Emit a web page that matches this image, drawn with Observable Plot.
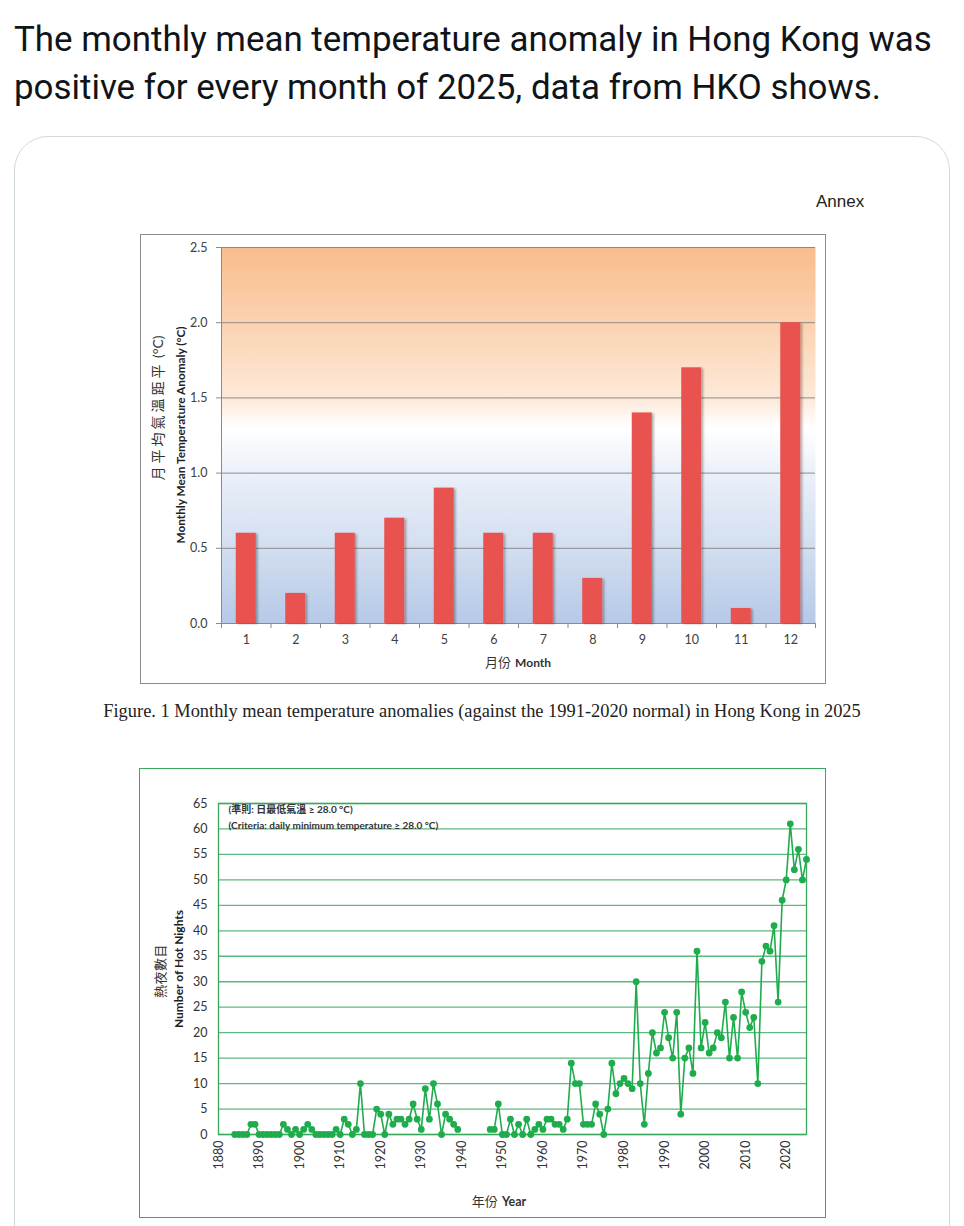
<!DOCTYPE html>
<html>
<head>
<meta charset="utf-8">
<script src="https://cdn.jsdelivr.net/npm/d3@7"></script>
<script src="https://cdn.jsdelivr.net/npm/@observablehq/plot@0.6"></script>
<style>
  html, body { margin: 0; padding: 0; background: #fff; }
  body { width: 964px; height: 1226px; overflow: hidden; position: relative; font-family: Lato, "Noto Sans CJK TC", sans-serif; }
  .abs { position: absolute; }
  .rot { position: absolute; white-space: nowrap; transform: translate(-50%, -50%) rotate(-90deg); }
  .ctr { position: absolute; white-space: nowrap; transform: translate(-50%, -50%); }
</style>
</head>
<body>
<div id="tweet" class="abs" style="left:14px;top:16px;font-family:Roboto,sans-serif;font-size:34px;line-height:48px;color:#0f1419;white-space:nowrap;">
  <span id="l1">The monthly mean temperature anomaly in Hong Kong was</span><br>
  <span id="l2">positive for every month of 2025, data from HKO shows.</span>
</div>
<div class="abs" style="left:14px;top:136px;width:936px;height:1200px;box-sizing:border-box;border:1.5px solid #cfd9de;border-radius:34px;"></div>
<div class="abs" style="left:816px;top:192px;font-family:'Liberation Sans',Arial,sans-serif;font-size:17px;color:#222;">Annex</div>

<div class="abs" style="left:140px;top:234px;width:686px;height:450px;box-sizing:border-box;border:1px solid #8c8c8c;"></div>
<div id="chart1" class="abs" style="left:140px;top:234px;"></div>
<div class="rot" style="left:157px;top:408px;font-size:14px;color:#333;"><span style="letter-spacing:3px;">月平均氣溫距平</span> (°C)</div>
<div class="rot" style="left:180px;top:435px;font-size:11.8px;font-weight:bold;color:#222;">Monthly Mean Temperature Anomaly (°C)</div>
<div class="ctr" style="left:518px;top:661px;color:#333;"><span style="font-size:13px;">月份</span> <span style="font-size:12px;font-weight:bold;">Month</span></div>

<div class="ctr" style="left:482px;top:711px;font-family:'Liberation Serif','Times New Roman',serif;font-size:18.4px;color:#222;">Figure. 1 Monthly mean temperature anomalies (against the 1991-2020 normal) in Hong Kong in 2025</div>

<div class="abs" style="left:139px;top:768px;width:687px;height:450px;box-sizing:border-box;border:1px solid #3aa85c;"></div>
<div id="chart2" class="abs" style="left:139px;top:768px;"></div>
<div class="rot" style="left:159px;top:971px;font-size:13px;letter-spacing:0.5px;color:#333;">熱夜數目</div>
<div class="rot" style="left:178px;top:969px;font-size:12px;font-weight:bold;color:#222;">Number of Hot Nights</div>
<div class="ctr" style="left:499px;top:1200px;color:#333;"><span style="font-size:13px;">年份</span> <span style="font-size:12.5px;font-weight:bold;">Year</span></div>

<script>
// ---------- Data: Figure 1 ----------
const months = [1, 2, 3, 4, 5, 6, 7, 8, 9, 10, 11, 12];
const anomalies = [0.6, 0.2, 0.6, 0.7, 0.9, 0.6, 0.6, 0.3, 1.4, 1.7, 0.1, 2.0];
const anomalyTicks = [0, 0.5, 1.0, 1.5, 2.0, 2.5];

// ---------- Data: Hot nights ----------
const hotNightsStartYear = 1884;
const hotNights = [
  0, 0, 0, 0, 2, 2,                     // 1884-1889
  0, 0, 0, 0, 0, 0, 2, 1, 0, 1,         // 1890-1899
  0, 1, 2, 1, 0, 0, 0, 0, 0, 1,         // 1900-1909
  0, 3, 2, 0, 1, 10, 0, 0, 0, 5,        // 1910-1919
  4, 0, 4, 2, 3, 3, 2, 3, 6, 3,         // 1920-1929
  1, 9, 3, 10, 6, 0, 4, 3, 2, 1,        // 1930-1939
  null, null, null, null, null, null, null, 1, 1, 6,  // 1940-1949
  0, 0, 3, 0, 2, 0, 3, 0, 1, 2,         // 1950-1959
  1, 3, 3, 2, 2, 1, 3, 14, 10, 10,      // 1960-1969
  2, 2, 2, 6, 4, 0, 5, 14, 8, 10,       // 1970-1979
  11, 10, 9, 30, 10, 2, 12, 20, 16, 17, // 1980-1989
  24, 19, 15, 24, 4, 15, 17, 12, 36, 17,// 1990-1999
  22, 16, 17, 20, 19, 26, 15, 23, 15, 28,// 2000-2009
  24, 21, 23, 10, 34, 37, 36, 41, 26, 46,// 2010-2019
  50, 61, 52, 56, 50, 54                // 2020-2025
];
const yearTicks = [1880, 1890, 1900, 1910, 1920, 1930, 1940, 1950, 1960, 1970, 1980, 1990, 2000, 2010, 2020];
const nightTicks = [0, 5, 10, 15, 20, 25, 30, 35, 40, 45, 50, 55, 60, 65];
const criteriaZh = "(準則: 日最低氣溫 ≥ 28.0 °C)";
const criteriaEn = "(Criteria: daily minimum temperature ≥ 28.0 °C)";

// ---------- Chart 1 ----------
const W1 = 686, H1 = 450, ml1 = 81, mr1 = 11, mt1 = 13, mb1 = 61;
const step1 = (W1 - ml1 - mr1) / months.length;
const barW = 20;
const pxPerUnit1 = (H1 - mt1 - mb1) / 2.5;
const tickLen1 = 5 / pxPerUnit1;
const data1 = months.map((m, i) => ({month: m, value: anomalies[i]}));

const plot1 = Plot.plot({
  width: W1, height: H1,
  marginLeft: ml1, marginRight: mr1, marginTop: mt1, marginBottom: mb1,
  style: {fontFamily: "Lato, 'Noto Sans CJK TC', sans-serif", fontSize: "12px", color: "#404040", background: "transparent", overflow: "visible"},
  x: {type: "band", domain: months, padding: 0, round: false, axis: null},
  y: {domain: [0, 2.5], axis: null},
  marks: [
    Plot.frame({fill: "url(#bg1)", stroke: null}),
    Plot.gridY(anomalyTicks, {stroke: "#8a8a8a", strokeOpacity: 1, strokeWidth: 1}),
    Plot.axisY(anomalyTicks, {tickFormat: d3.format(".1f"), tickSize: 5, tickPadding: 9, stroke: "#8a8a8a", fill: "#404040", label: null, fontSize: 12.5}),
    Plot.ruleX([months[0]], {dx: -step1 / 2, stroke: "#8a8a8a"}),
    Plot.ruleY([0], {stroke: "#8a8a8a"}),
    Plot.ruleX(months, {x: d => d, y1: 0, y2: -tickLen1, dx: step1 / 2, stroke: "#8a8a8a", clip: false}),
    Plot.ruleX([months[0]], {y1: 0, y2: -tickLen1, dx: -step1 / 2, stroke: "#8a8a8a", clip: false}),
    Plot.barY(data1, {x: "month", y: "value", fill: "#e9534f", insetLeft: (step1 - barW) / 2, insetRight: (step1 - barW) / 2}),
    Plot.axisX(months, {tickSize: 0, tickPadding: 12, fill: "#404040", label: null, fontSize: 12.5})
  ]
});
d3.select(plot1).insert("defs", ":first-child").html(
  `<linearGradient id="bg1" x1="0" y1="0" x2="0" y2="1">
     <stop offset="0" stop-color="#f8bd8c"/>
     <stop offset="0.2" stop-color="#fbd2b1"/>
     <stop offset="0.4" stop-color="#fde9d9"/>
     <stop offset="0.48" stop-color="#ffffff"/>
     <stop offset="0.6" stop-color="#ebf0f9"/>
     <stop offset="0.8" stop-color="#d2def0"/>
     <stop offset="1" stop-color="#b6c9e7"/>
   </linearGradient>
   <filter id="shadow1" x="-20%" y="-5%" width="150%" height="110%">
     <feDropShadow dx="2" dy="1" stdDeviation="1" flood-color="#000" flood-opacity="0.3"/>
   </filter>`
);
d3.select(plot1).selectAll("g[aria-label='bar']").attr("filter", "url(#shadow1)");
document.getElementById("chart1").appendChild(plot1);

// ---------- Chart 2 ----------
const W2 = 687, H2 = 450, ml2 = 79, mr2 = 20, mt2 = 35, mb2 = 84;
const data2 = hotNights.map((v, i) => ({year: hotNightsStartYear + i, value: v}));
const green = "#1fac4d";
const plot2 = Plot.plot({
  width: W2, height: H2,
  marginLeft: ml2, marginRight: mr2, marginTop: mt2, marginBottom: mb2,
  style: {fontFamily: "Lato, 'Noto Sans CJK TC', sans-serif", fontSize: "12.5px", color: "#333", background: "transparent", overflow: "visible"},
  x: {domain: [1880, 2025], axis: null},
  y: {domain: [0, 65], axis: null},
  marks: [
    Plot.gridY(nightTicks, {stroke: "#5cba7d", strokeOpacity: 1, strokeWidth: 1.3}),
    Plot.frame({stroke: "#3aa85c", strokeWidth: 1.3}),
    Plot.axisY(nightTicks, {tickSize: 0, tickPadding: 11, fill: "#333", label: null, fontSize: 12.5}),
    Plot.axisX(yearTicks, {tickRotate: -90, tickSize: 0, tickPadding: 6, tickFormat: d => String(d), fill: "#333", label: null, fontSize: 12.5}),
    Plot.line(data2, {x: "year", y: "value", stroke: green, strokeWidth: 1.6}),
    Plot.dot(data2.filter(d => d.value != null), {x: "year", y: "value", r: 3.4, fill: green, stroke: null}),
    Plot.text([criteriaZh], {frameAnchor: "top-left", dx: 10, dy: 2, fontSize: 10, fontWeight: "bold", fill: "#333", textAnchor: "start", lineAnchor: "top"}),
    Plot.text([criteriaEn], {frameAnchor: "top-left", dx: 10, dy: 18, fontSize: 10, fontWeight: "bold", fill: "#333", textAnchor: "start", lineAnchor: "top"})
  ]
});
document.getElementById("chart2").appendChild(plot2);

// fit tweet text width to reference
const l1 = document.getElementById("l1");
const target = 918;
const w = l1.getBoundingClientRect().width;
if (w > 0) {
  const fs = 34 * target / w;
  document.getElementById("tweet").style.fontSize = fs.toFixed(2) + "px";
}
</script>
</body>
</html>
